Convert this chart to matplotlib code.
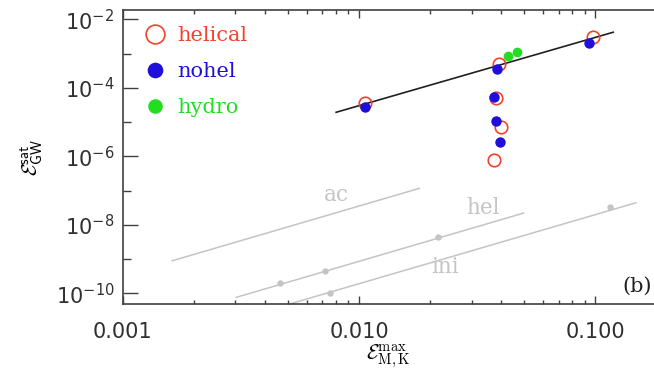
'''
Saturated GW energy vs max magnetic/kinetic energy
'''
import matplotlib
matplotlib.use('Agg')
import matplotlib.pyplot as plt
from matplotlib.ticker import FixedLocator, LogLocator, NullFormatter, FixedFormatter

# data
helical_x = [0.0106, 0.0390, 0.0981, 0.0380, 0.0398, 0.0374]
helical_y = [3.7e-5, 4.9e-4, 3.1e-3, 4.9e-5, 7.0e-6, 8.0e-7]
nohel_x = [0.0106, 0.0385, 0.0944, 0.0374, 0.0380, 0.0393]
nohel_y = [2.7e-5, 3.5e-4, 2.1e-3, 5.4e-5, 1.1e-5, 2.6e-6]
hydro_x = [0.0427, 0.0466]
hydro_y = [8.3e-4, 1.09e-3]

fit_x = [0.0080, 0.119]
fit_y = [1.93e-5, 4.2e-3]

ac_x = [0.00162, 0.0180]
ac_y = [8.9e-10, 1.16e-7]
hel_x = [0.00302, 0.0497]
hel_y = [7.6e-11, 2.2e-8]
hel_pts_x = [0.00465, 0.00719, 0.0216]
hel_pts_y = [2.0e-10, 4.6e-10, 4.3e-9]
ini_x = [0.0051, 0.1485]
ini_y = [4.9e-11, 4.4e-8]
ini_pts_x = [0.00754, 0.1157]
ini_pts_y = [1.05e-10, 3.4e-8]

xticks = [0.001, 0.01, 0.1]
xticklabels = ['0.001', '0.010', '0.100']
yticks = [1e-10, 1e-8, 1e-6, 1e-4, 1e-2]
yminor = [1e-9, 1e-7, 1e-5, 1e-3]

red = '#f4422c'
blue = '#1f0fd8'
green = '#22dd22'
gray = '#c4c4c4'
spine = '#404040'

plt.rcParams['mathtext.fontset'] = 'cm'
serif = 'DejaVu Serif'

fig = plt.figure(figsize=(6.54, 3.71), dpi=100)
ax = fig.add_axes([0.1876, 0.1806, 0.8124, 0.7924])
ax.set_xscale('log')
ax.set_yscale('log')
ax.set_xlim(0.001, 0.177)
ax.set_ylim(4.87e-11, 1.87e-2)

# gray reference lines
ax.plot(ac_x, ac_y, color=gray, lw=1.1)
ax.plot(hel_x, hel_y, color=gray, lw=1.1)
ax.plot(ini_x, ini_y, color=gray, lw=1.1)
ax.plot(hel_pts_x, hel_pts_y, 'o', color=gray, ms=4.6, mew=0)
ax.plot(ini_pts_x, ini_pts_y, 'o', color=gray, ms=4.6, mew=0)
ax.text(0.00798, 7.4e-8, 'ac', color=gray, fontsize=15.5, family=serif, ha='center', va='center')
ax.text(0.0336, 3.1e-8, 'hel', color=gray, fontsize=15.5, family=serif, ha='center', va='center')
ax.text(0.0232, 5.9e-10, 'ini', color=gray, fontsize=15.5, family=serif, ha='center', va='center')

# fit line
ax.plot(fit_x, fit_y, color='#202020', lw=1.2)

ax.plot(helical_x, helical_y, 'o', ms=9, mfc='none', mec=red, mew=1.2, label='helical')
ax.plot(nohel_x, nohel_y, 'o', ms=7.5, color=blue, mew=0, label='nohel')
ax.plot(hydro_x, hydro_y, 'o', ms=7, color=green, mew=0, label='hydro')

leg = ax.legend(loc='upper left', bbox_to_anchor=(0.045, 0.945), frameon=False,
                markerscale=1.5, handlelength=0.8, handletextpad=0.66,
                borderaxespad=0, borderpad=0, labelspacing=0.82,
                prop={'family': serif, 'size': 15},
                labelcolor=[red, blue, green])

ax.text(0.996, 0.061, '(b)', transform=ax.transAxes, fontsize=15, family=serif,
        ha='right', va='center', color='#202020')

# axes styling
ax.spines['right'].set_visible(False)
for s in ['left', 'top', 'bottom']:
    ax.spines[s].set_color(spine)
    ax.spines[s].set_linewidth(1.2)

ax.xaxis.set_major_locator(FixedLocator(xticks))
ax.xaxis.set_major_formatter(FixedFormatter(xticklabels))
ax.xaxis.set_minor_locator(LogLocator(base=10, subs=range(2, 10)))
ax.xaxis.set_minor_formatter(NullFormatter())
ax.yaxis.set_major_locator(FixedLocator(yticks))
ax.yaxis.set_minor_locator(FixedLocator(yminor))
ax.yaxis.set_minor_formatter(NullFormatter())

ax.tick_params(axis='x', which='major', direction='in', length=5.5, width=1, color=spine,
               top=True, labelsize=15, pad=13, labelcolor='#303030')
ax.tick_params(axis='x', which='minor', direction='in', length=2.7, width=1, color=spine, top=True)
ax.tick_params(axis='y', which='major', direction='in', length=10.5, width=1, color=spine,
               right=False, labelsize=15, pad=6, labelcolor='#303030')
ax.tick_params(axis='y', which='minor', direction='in', length=5.5, width=1, color=spine, right=False)

ax.set_ylabel(r'$\mathcal{E}_{\mathsf{GW}}^{\mathsf{sat}}$', fontsize=15, labelpad=8)
ax.set_xlabel(r'$\mathcal{E}_{\mathrm{M,K}}^{\mathrm{max}}$', fontsize=15, labelpad=0)

fig.savefig('out.png', dpi=100)
